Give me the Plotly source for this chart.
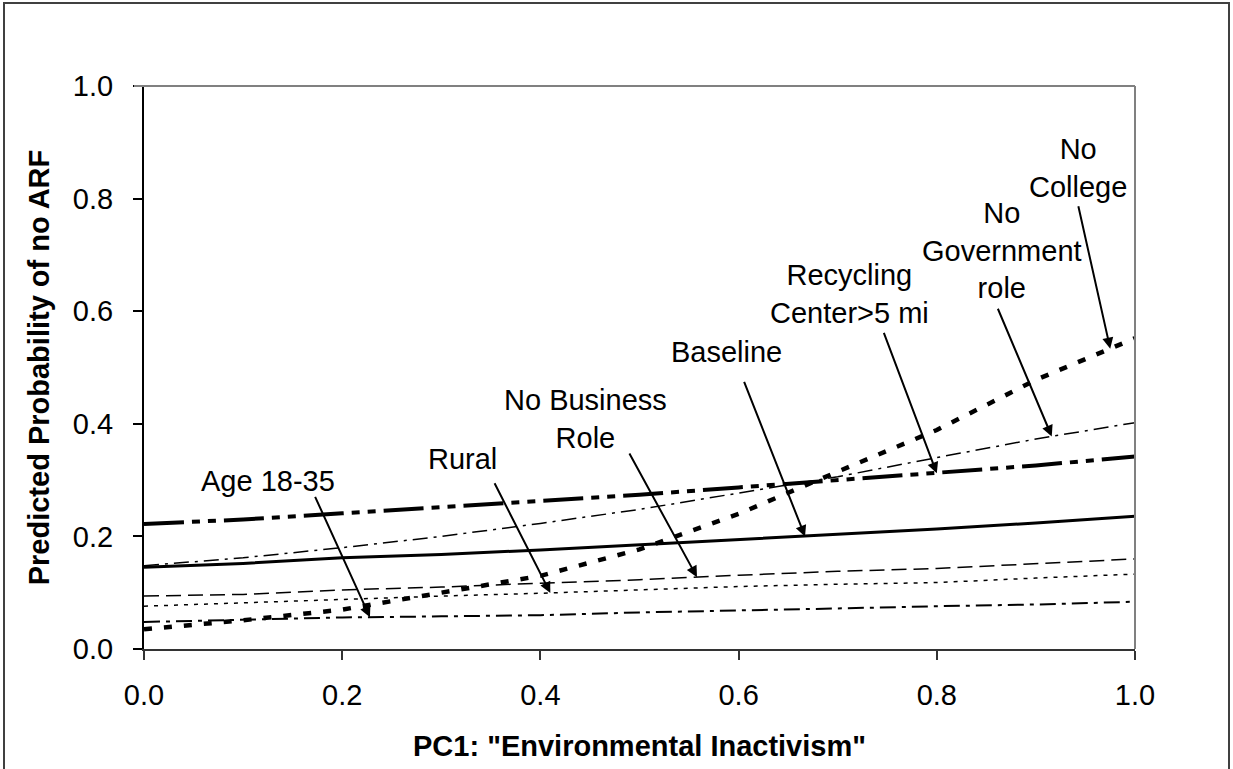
import numpy as np
import plotly.graph_objects as go

# ---- data ----
pc1 = [0.0, 0.1, 0.2, 0.3, 0.4, 0.5, 0.6, 0.7, 0.8, 0.9, 1.0]
baseline = [0.145, 0.152, 0.162, 0.168, 0.176, 0.185, 0.194, 0.203, 0.213, 0.224, 0.236]
recycling_far = [0.222, 0.230, 0.241, 0.252, 0.263, 0.274, 0.287, 0.300, 0.312, 0.326, 0.342]
no_government = [0.148, 0.162, 0.180, 0.200, 0.223, 0.248, 0.277, 0.306, 0.340, 0.373, 0.402]
no_college = [0.035, 0.051, 0.070, 0.099, 0.130, 0.177, 0.240, 0.315, 0.389, 0.478, 0.552]
no_business = [0.094, 0.097, 0.105, 0.110, 0.117, 0.123, 0.131, 0.138, 0.143, 0.151, 0.160]
rural = [0.076, 0.082, 0.089, 0.094, 0.099, 0.105, 0.111, 0.115, 0.118, 0.126, 0.133]
age_18_35 = [0.048, 0.052, 0.056, 0.058, 0.060, 0.065, 0.068, 0.072, 0.076, 0.079, 0.084]

tick_vals = [0.0, 0.2, 0.4, 0.6, 0.8, 1.0]
x_title = 'PC1: "Environmental Inactivism"'
y_title = "Predicted Probability of no ARF"

# label text, text centre (x, y), arrow tail (x, y), arrow head x, series pointed at
labels = [
    ("Age 18-35", (0.125, 0.298), (0.172, 0.273), 0.228, age_18_35),
    ("Rural", (0.321, 0.337), (0.353, 0.297), 0.410, rural),
    ("No Business<br>Role", (0.445, 0.409), (0.489, 0.350), 0.558, no_business),
    ("Baseline", (0.588, 0.528), (0.605, 0.477), 0.667, baseline),
    ("Recycling<br>Center>5 mi", (0.712, 0.631), (0.746, 0.564), 0.800, recycling_far),
    ("No<br>Government<br>role", (0.866, 0.707), (0.861, 0.607), 0.916, no_government),
    ("No<br>College", (0.9425, 0.855), (0.9425, 0.789), 0.975, no_college),
]

styles = [
    ("Baseline", baseline, "solid", 3),
    ("Recycling Center>5 mi", recycling_far, "40px,8px,8px,8px,8px,8px", 4),
    ("No Government role", no_government, "15px,6px,3px,6px", 1.5),
    ("No College", no_college, "8px,12px", 4.5),
    ("No Business Role", no_business, "15px,7px", 1.5),
    ("Rural", rural, "4px,6px", 1.5),
    ("Age 18-35", age_18_35, "16px,6px,4px,6px", 2),
]

FONT = "Liberation Sans, Arial, sans-serif"
FS = 29

fig = go.Figure()
for name, vals, dash, w in styles:
    fig.add_trace(go.Scatter(x=pc1, y=vals, mode="lines", name=name,
                             line=dict(color="black", width=w, dash=dash),
                             showlegend=False, hoverinfo="skip"))

annotations = []
for text, (tx, ty), (ax_, ay_), hx, ser in labels:
    hy = float(np.interp(hx, pc1, ser))
    annotations.append(dict(x=hx, y=hy, ax=ax_, ay=ay_, axref="x", ayref="y",
                            xref="x", yref="y", text="", showarrow=True,
                            arrowhead=2, arrowsize=1.1, arrowwidth=2,
                            arrowcolor="black"))
    annotations.append(dict(x=tx, y=ty, xref="x", yref="y", text=text,
                            showarrow=False, font=dict(family=FONT, size=FS, color="black"),
                            align="center"))

L, R, T, B = 144, 98, 86, 120
W, H = 1233, 769
pw, ph = W - L - R, H - T - B

shapes = [
    # top and right frame of the plot area (grey)
    dict(type="line", xref="paper", yref="paper", x0=(134 - L) / pw, x1=1, y0=1, y1=1,
         line=dict(color="#808080", width=2)),
    dict(type="line", xref="paper", yref="paper", x0=1, x1=1, y0=0, y1=1,
         line=dict(color="#808080", width=2)),
    # outer chart border (bottom edge lies below the visible page)
    dict(type="rect", xref="paper", yref="paper",
         x0=(4 - L) / pw, x1=(1229 - L) / pw,
         y0=-(820 - (H - B)) / ph, y1=(H - B - 3) / ph,
         line=dict(color="#404040", width=2)),
]

fig.update_layout(
    width=W, height=H,
    margin=dict(l=L, r=R, t=T, b=B, pad=0),
    paper_bgcolor="white", plot_bgcolor="white",
    font=dict(family=FONT, color="black"),
    annotations=annotations,
    shapes=shapes,
)
fig.update_xaxes(range=[0, 1], tickvals=tick_vals, tickformat=".1f",
                 showgrid=False, zeroline=False, showline=True, linecolor="#333333", linewidth=2,
                 ticks="outside", ticklen=9, tickwidth=1.5, tickcolor="#333333",
                 tickfont=dict(family=FONT, size=FS), ticklabelstandoff=10,
                 title=dict(text=x_title, font=dict(family=FONT, size=FS, weight="bold"), standoff=26))
fig.update_yaxes(range=[0, 1], tickvals=tick_vals, tickformat=".1f",
                 showgrid=False, zeroline=False, showline=True, linecolor="black", linewidth=2,
                 ticks="outside", ticklen=9, tickwidth=1.5, tickcolor="black",
                 tickfont=dict(family=FONT, size=FS), ticklabelstandoff=14,
                 title=dict(text=y_title, font=dict(family=FONT, size=FS, weight="bold"), standoff=15))

fig.write_html("out.html", config={"displayModeBar": False},
               post_script="document.body.style.margin='0';document.body.style.overflow='hidden';")
